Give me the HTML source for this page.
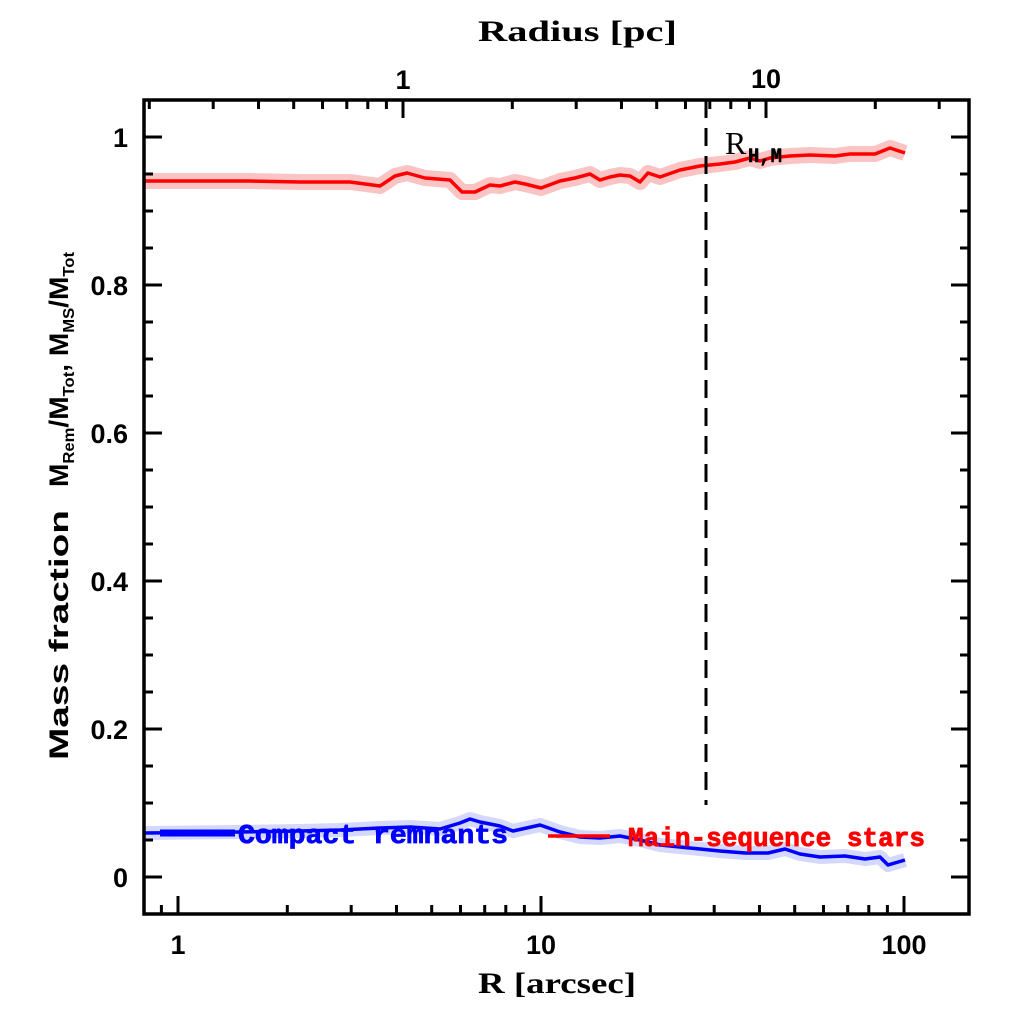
<!DOCTYPE html>
<html><head><meta charset="utf-8"><style>html,body{margin:0;padding:0;background:#fff}svg{display:block}</style></head>
<body>
<svg width="1024" height="1024" viewBox="0 0 1024 1024" xmlns="http://www.w3.org/2000/svg">
<rect width="1024" height="1024" fill="#fff"/>
<polyline fill="none" stroke="#fbc4c4" stroke-width="16" stroke-linejoin="round" points="145,181 250,181 300,182 350,182 380,186 395,176 407,173 425,178 450,180 462,192 475,192 490,185 500,186 515,182 525,184 541,188 560,181 575,178 590,174 600,180 610,177 620,175 630,176 640,182 648,173 660,177 680,170 700,166 720,164 735,162 750,158 760,161 770,158 790,156 810,155 835,156 850,154 875,154 890,148 905,153"/>
<polyline fill="none" stroke="#d4d8fa" stroke-width="14" stroke-linejoin="round" points="145,833 240,832 300,831 340,830 380,828 410,827 440,829 460,823 470,819 480,822 500,826 513,831 540,825 560,832 580,837 600,838 620,836 640,840 660,845 680,847 700,849 720,851 745,853 768,853 785,849 800,854 820,857 845,856 865,859 880,857 888,865 905,860"/>
<polyline fill="none" stroke="#ff0000" stroke-width="3.5" stroke-linejoin="round" points="145,181 250,181 300,182 350,182 380,186 395,176 407,173 425,178 450,180 462,192 475,192 490,185 500,186 515,182 525,184 541,188 560,181 575,178 590,174 600,180 610,177 620,175 630,176 640,182 648,173 660,177 680,170 700,166 720,164 735,162 750,158 760,161 770,158 790,156 810,155 835,156 850,154 875,154 890,148 905,153"/>
<polyline fill="none" stroke="#0000ff" stroke-width="3.5" stroke-linejoin="round" points="145,833 240,832 300,831 340,830 380,828 410,827 440,829 460,823 470,819 480,822 500,826 513,831 540,825 560,832 580,837 600,838 620,836 640,840 660,845 680,847 700,849 720,851 745,853 768,853 785,849 800,854 820,857 845,856 865,859 880,857 888,865 905,860"/>
<line x1="706" y1="100" x2="706" y2="805" stroke="#000" stroke-width="3" stroke-dasharray="18,10"/>
<line x1="160" y1="833" x2="235" y2="833" stroke="#0000ff" stroke-width="7"/>
<text x="238" y="843" font-family="Liberation Mono, monospace" font-weight="bold" font-size="27" fill="#0000ff" stroke="#0000ff" stroke-width="0.8" textLength="270" lengthAdjust="spacingAndGlyphs">Compact remnants</text>
<line x1="548" y1="836" x2="610" y2="836" stroke="#ff0000" stroke-width="3.5"/>
<text x="628" y="846" font-family="Liberation Mono, monospace" font-weight="bold" font-size="27" fill="#ff0000" stroke="#ff0000" stroke-width="0.8" textLength="297" lengthAdjust="spacingAndGlyphs">Main-sequence stars</text>
<text x="725" y="154" font-family="Liberation Serif, serif" font-size="32" fill="#000">R</text>
<text x="748" y="162" font-family="Liberation Mono, monospace" font-weight="bold" font-size="20" fill="#000" stroke="#000" stroke-width="0.6" textLength="34" lengthAdjust="spacingAndGlyphs">H,M</text>
<rect x="144" y="100" width="825" height="814" fill="none" stroke="#000" stroke-width="3.5"/>
<g stroke="#000" stroke-width="3">
<path d="M161.4,914v-9M178,914v-18M287.3,914v-9M351.2,914v-9M396.5,914v-9M431.7,914v-9M460.5,914v-9M484.7,914v-9M505.8,914v-9M524.4,914v-9M541,914v-18M650.3,914v-9M714.2,914v-9M759.5,914v-9M794.7,914v-9M823.5,914v-9M847.7,914v-9M868.8,914v-9M887.4,914v-9M904,914v-18"/>
<path d="M149.3,100v9M213.2,100v9M258.5,100v9M293.7,100v9M322.5,100v9M346.8,100v9M367.8,100v9M386.4,100v9M403,100v18M512.3,100v9M576.2,100v9M621.5,100v9M656.7,100v9M685.5,100v9M709.8,100v9M730.8,100v9M749.4,100v9M766,100v18M875.3,100v9M939.2,100v9"/>
<path d="M144,877h18M144,840h9M144,803h9M144,766h9M144,729h18M144,692h9M144,655h9M144,618h9M144,581h18M144,544h9M144,507h9M144,470h9M144,433h18M144,396h9M144,359h9M144,322h9M144,285h18M144,248h9M144,211h9M144,174h9M144,137h18"/>
<path d="M969,877h-18M969,840h-9M969,803h-9M969,766h-9M969,729h-18M969,692h-9M969,655h-9M969,618h-9M969,581h-18M969,544h-9M969,507h-9M969,470h-9M969,433h-18M969,396h-9M969,359h-9M969,322h-9M969,285h-18M969,248h-9M969,211h-9M969,174h-9M969,137h-18"/>
</g>
<g font-family="Liberation Sans, sans-serif" font-weight="bold" font-size="27" fill="#000">
<g text-anchor="end">
<text x="128" y="887">0</text><text x="128" y="739">0.2</text><text x="128" y="591">0.4</text><text x="128" y="443">0.6</text><text x="128" y="295">0.8</text><text x="128" y="147">1</text>
</g>
<g text-anchor="middle">
<text x="178" y="954">1</text><text x="541" y="954">10</text><text x="904" y="954">100</text>
<text x="403" y="89">1</text><text x="766" y="88">10</text>
</g>
</g>
<text x="478" y="993" font-family="Liberation Serif, serif" font-weight="bold" font-size="30" textLength="158" lengthAdjust="spacingAndGlyphs">R [arcsec]</text>
<text x="478" y="41" font-family="Liberation Serif, serif" font-weight="bold" font-size="30" textLength="199" lengthAdjust="spacingAndGlyphs">Radius [pc]</text>
<text transform="translate(68,760) rotate(-90)" font-family="Liberation Sans, sans-serif" font-weight="bold" font-size="27" fill="#000" textLength="250" lengthAdjust="spacingAndGlyphs">Mass fraction</text>
<text transform="translate(68,487) rotate(-90)" font-family="Liberation Sans, sans-serif" font-weight="bold" font-size="27" fill="#000" textLength="235" lengthAdjust="spacingAndGlyphs">M<tspan font-size="16" dy="6">Rem</tspan><tspan dy="-6">/M</tspan><tspan font-size="16" dy="6">Tot</tspan><tspan dy="-6">,  M</tspan><tspan font-size="16" dy="6">MS</tspan><tspan dy="-6">/M</tspan><tspan font-size="16" dy="6">Tot</tspan></text>
</svg>
</body></html>
